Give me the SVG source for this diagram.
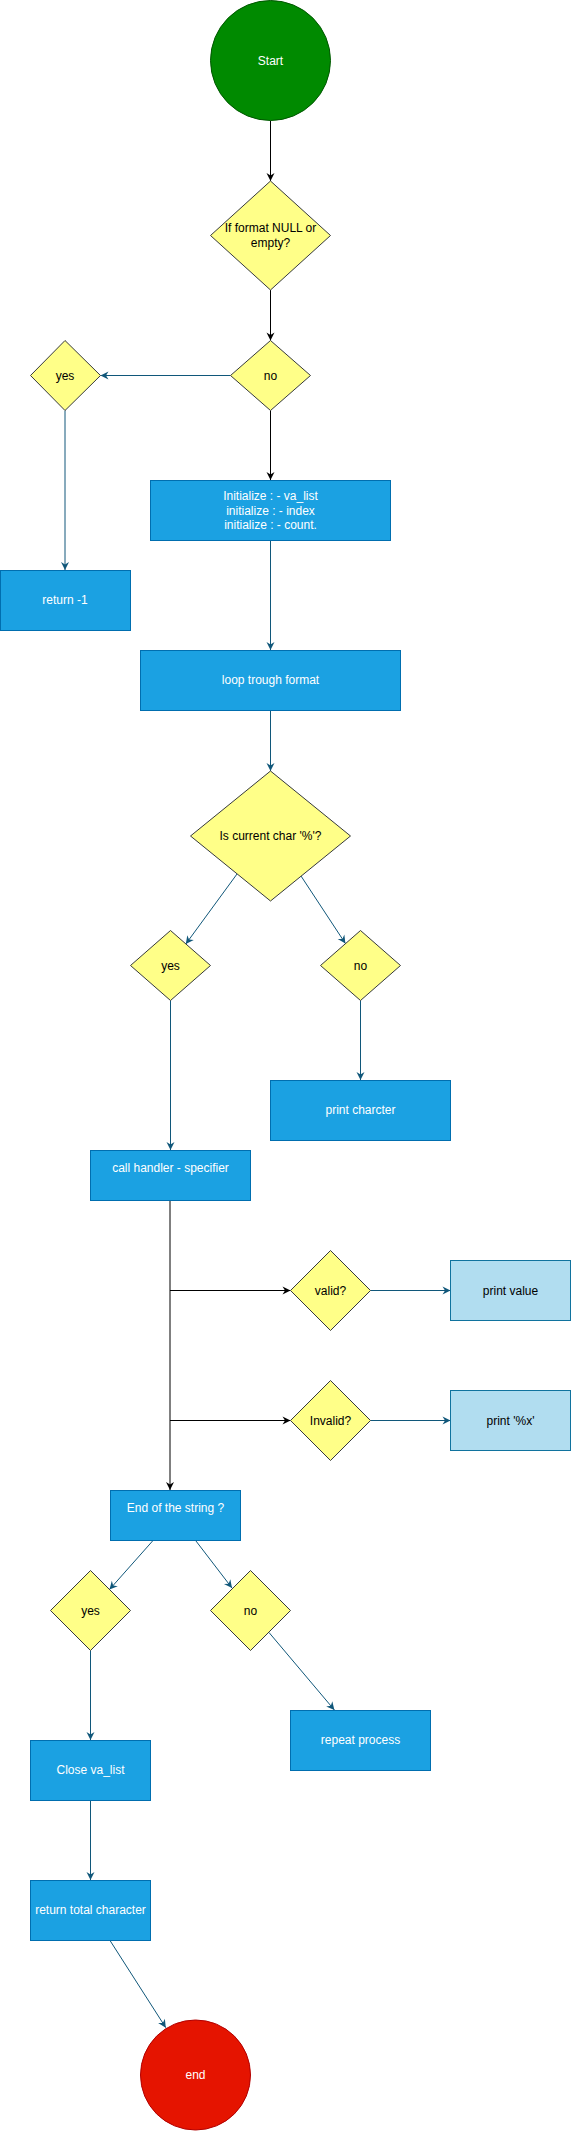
<svg xmlns="http://www.w3.org/2000/svg" width="571" height="2131" viewBox="0 0 571 2131">
<style>
text{font-family:"Liberation Sans",Arial,sans-serif;font-size:12px;text-anchor:middle}
.w{fill:#ffffff}
.k{fill:#000000}
.dia{fill:#ffff88;stroke:#36393d;stroke-width:1}
.box{fill:#1ba1e2;stroke:#006eaf;stroke-width:1}
.lbox{fill:#b1ddf0;stroke:#10739e;stroke-width:1}
.e{fill:none;stroke:#10577a;stroke-width:1;marker-end:url(#at)}
.b{fill:none;stroke:#000000;stroke-width:1;marker-end:url(#ab)}
</style>
<defs>
<marker id="at" viewBox="-9 -5 10 10" refX="0" refY="0" markerWidth="10" markerHeight="10" markerUnits="userSpaceOnUse" orient="auto">
<path d="M0,0 L-8,-4 L-5.5,0 L-8,4 Z" fill="#10577a"/>
</marker>
<marker id="ab" viewBox="-9 -5 10 10" refX="0" refY="0" markerWidth="10" markerHeight="10" markerUnits="userSpaceOnUse" orient="auto">
<path d="M0,0 L-8,-4 L-5.5,0 L-8,4 Z" fill="#000000"/>
</marker>
</defs>
<rect x="0" y="0" width="571" height="2131" fill="#ffffff"/>
<g id="connectors">
<path class="b" d="M270.5,120.5 L270.5,181"/>
<path class="b" d="M270.5,290 L270.5,340.5"/>
<path class="e" d="M230.5,375.5 L100.5,375.5"/>
<path class="b" d="M270.5,410.5 L270.5,480"/>
<path class="e" d="M65,410.5 L65,570"/>
<path class="e" d="M270.5,540.5 L270.5,650"/>
<path class="e" d="M270.5,710.5 L270.5,771"/>
<path class="e" d="M237,874 L185.8,944"/>
<path class="e" d="M301,876 L345.4,943.5"/>
<path class="e" d="M170.5,1000.5 L170.5,1150"/>
<path class="e" d="M360.5,1000.5 L360.5,1080"/>
<path class="b" d="M170,1200.5 L170,1490"/>
<path class="b" d="M170,1290.5 L290.5,1290.5"/>
<path class="b" d="M170,1420.5 L290.5,1420.5"/>
<path class="e" d="M370.5,1290.5 L450.5,1290.5"/>
<path class="e" d="M370.5,1420.5 L450.5,1420.5"/>
<path class="e" d="M153,1540.5 L109.5,1589.5"/>
<path class="e" d="M195.6,1540.5 L232,1588"/>
<path class="e" d="M90.5,1650.5 L90.5,1740"/>
<path class="e" d="M269,1632.5 L334.4,1710"/>
<path class="e" d="M90.5,1800.5 L90.5,1880"/>
<path class="e" d="M110,1940.5 L165.8,2027.7"/>
</g>
<g id="start">
<circle cx="270.5" cy="60.5" r="60" fill="#008a00" stroke="#005700"/>
<text class="w" x="270.5" y="64.5">Start</text>
</g>
<g id="format-null">
<path class="dia" d="M270.5,181 L330.5,235.5 L270.5,290 L210.5,235.5 Z"/>
<text class="k" x="270.5" y="232">If format NULL or</text>
<text class="k" x="270.5" y="247">empty?</text>
</g>
<g id="no1">
<path class="dia" d="M270.5,340.5 L310.5,375.5 L270.5,410.5 L230.5,375.5 Z"/>
<text class="k" x="270.5" y="379.5">no</text>
</g>
<g id="yes1">
<path class="dia" d="M65,340.5 L100.5,375.5 L65,410.5 L30.5,375.5 Z"/>
<text class="k" x="65" y="379.5">yes</text>
</g>
<g id="return-neg">
<rect class="box" x="0.5" y="570.5" width="130" height="60"/>
<text class="w" x="65" y="604">return -1</text>
</g>
<g id="init">
<rect class="box" x="150.5" y="480.5" width="240" height="60"/>
<text class="w" x="270.5" y="500">Initialize : - va_list</text>
<text class="w" x="270.5" y="514.5">initialize : - index</text>
<text class="w" x="270.5" y="529">initialize : - count.</text>
</g>
<g id="loop">
<rect class="box" x="140.5" y="650.5" width="260" height="60"/>
<text class="w" x="270.5" y="684">loop trough format</text>
</g>
<g id="is-percent">
<path class="dia" d="M270.5,771 L350.5,836 L270.5,901 L190.5,836 Z"/>
<text class="k" x="270.5" y="839.5">Is current char '%'?</text>
</g>
<g id="yes2">
<path class="dia" d="M170.5,930.5 L210.5,965.5 L170.5,1000.5 L130.5,965.5 Z"/>
<text class="k" x="170.5" y="969.5">yes</text>
</g>
<g id="no2">
<path class="dia" d="M360.5,930.5 L400.5,965.5 L360.5,1000.5 L320.5,965.5 Z"/>
<text class="k" x="360.5" y="969.5">no</text>
</g>
<g id="print-char">
<rect class="box" x="270.5" y="1080.5" width="180" height="60"/>
<text class="w" x="360.5" y="1114">print charcter</text>
</g>
<g id="call-handler">
<rect class="box" x="90.5" y="1150.5" width="160" height="50"/>
<text class="w" x="170.5" y="1171.5">call handler - specifier</text>
</g>
<g id="valid">
<path class="dia" d="M330.5,1250.5 L370.5,1290.5 L330.5,1330.5 L290.5,1290.5 Z"/>
<text class="k" x="330.5" y="1294.5">valid?</text>
</g>
<g id="print-value">
<rect class="lbox" x="450.5" y="1260.5" width="120" height="60"/>
<text class="k" x="510.5" y="1294.5">print value</text>
</g>
<g id="invalid">
<path class="dia" d="M330.5,1380.5 L370.5,1420.5 L330.5,1460.5 L290.5,1420.5 Z"/>
<text class="k" x="330.5" y="1424.5">Invalid?</text>
</g>
<g id="print-pct">
<rect class="lbox" x="450.5" y="1390.5" width="120" height="60"/>
<text class="k" x="510.5" y="1424.5">print '%x'</text>
</g>
<g id="end-of-string">
<rect class="box" x="110.5" y="1490.5" width="130" height="50"/>
<text class="w" x="175.5" y="1512">End of the string ?</text>
</g>
<g id="yes3">
<path class="dia" d="M90.5,1570.5 L130.5,1610.5 L90.5,1650.5 L50.5,1610.5 Z"/>
<text class="k" x="90.5" y="1614.5">yes</text>
</g>
<g id="no3">
<path class="dia" d="M250.5,1570.5 L290.5,1610.5 L250.5,1650.5 L210.5,1610.5 Z"/>
<text class="k" x="250.5" y="1614.5">no</text>
</g>
<g id="repeat">
<rect class="box" x="290.5" y="1710.5" width="140" height="60"/>
<text class="w" x="360.5" y="1744">repeat process</text>
</g>
<g id="close-va">
<rect class="box" x="30.5" y="1740.5" width="120" height="60"/>
<text class="w" x="90.5" y="1773.5">Close va_list</text>
</g>
<g id="return-total">
<rect class="box" x="30.5" y="1880.5" width="120" height="60"/>
<text class="w" x="90.5" y="1914">return total character</text>
</g>
<g id="end">
<circle cx="195.5" cy="2075" r="55" fill="#e51400" stroke="#b20000"/>
<text class="w" x="195.5" y="2079">end</text>
</g>
</svg>
